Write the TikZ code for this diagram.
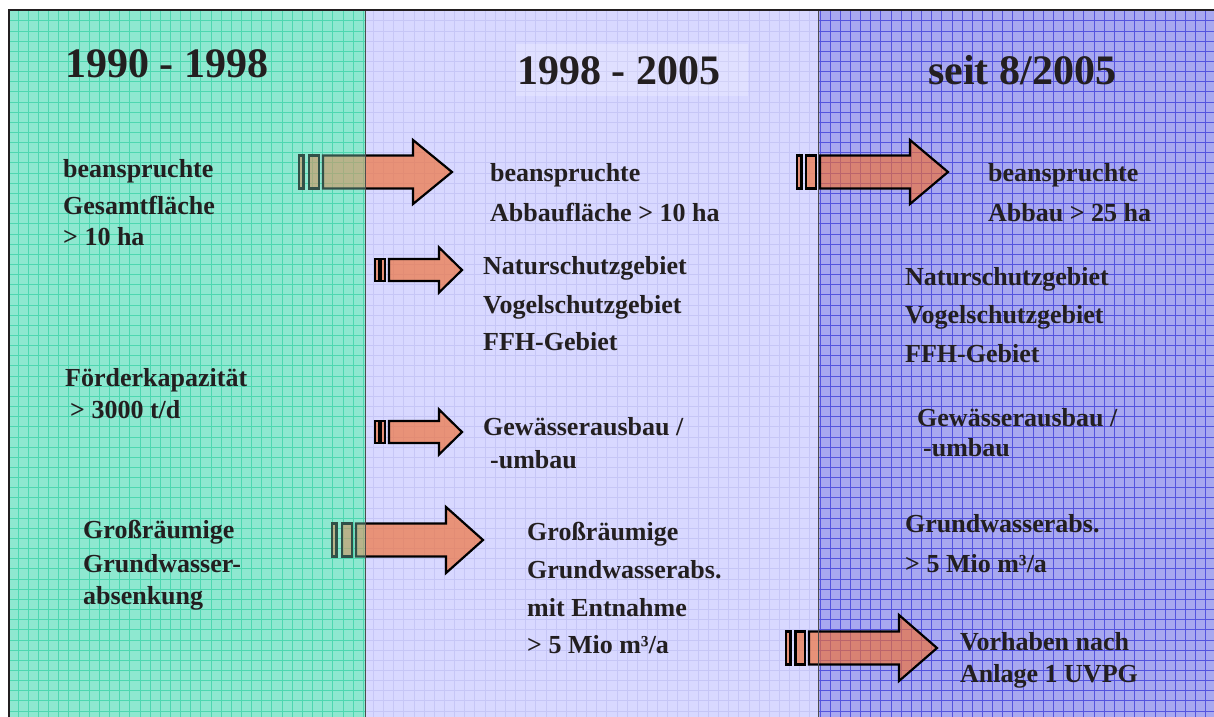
\documentclass[tikz,border=0pt]{standalone}
\usepackage{fontspec}
\setmainfont{Liberation Serif}
\definecolor{tealbg}{RGB}{142,232,208}
\definecolor{tealgrid}{RGB}{44,206,160}
\definecolor{lavbg}{RGB}{216,216,255}
\definecolor{lavgrid}{RGB}{198,198,246}
\definecolor{bluebg}{RGB}{168,168,240}
\definecolor{bluegrid}{RGB}{84,84,222}
\definecolor{arrfill}{RGB}{242,110,48}
\definecolor{txtcol}{RGB}{35,31,32}
\newcommand\blockarr[8]{%
  \draw[arrstyle] (#1,#6-#7) rectangle (#1+4.5,#6+#7);
  \draw[arrstyle] (#2,#6-#7) rectangle (#3-4,#6+#7);
  \draw[arrstyle] (#3,#6-#7) -- (#4,#6-#7) -- (#4,#6-#8) -- (#5,#6) -- (#4,#6+#8) -- (#4,#6+#7) -- (#3,#6+#7) -- cycle;}
\begin{document}
\begin{tikzpicture}[x=1pt,y=-1pt,
  txt/.style={anchor=base west, inner sep=0pt, font=\fontsize{26}{32}\selectfont\bfseries, text=txtcol},
  ttl/.style={anchor=base west, inner sep=0pt, font=\fontsize{42}{50}\selectfont\bfseries, text=txtcol},
  arrstyle/.style={draw=black, line width=2.2pt, line join=miter, fill=arrfill, fill opacity=0.65},
  gridl/.style={line width=0.9pt}]
\useasboundingbox (0,0) rectangle (1214,716);
\fill[white] (0,0) rectangle (1214,716);
% column backgrounds
\fill[tealbg] (9,10) rectangle (365,717);
\fill[lavbg] (365,10) rectangle (818,717);
\fill[bluebg] (818,10) rectangle (1215,717);
% grids
\begin{scope}
\clip (9,10) rectangle (365,717);
\draw[gridl, tealgrid, shift={(8,0.5)}, step=10.15pt] (0,0) grid (360,720);
\end{scope}
\begin{scope}
\clip (365,10) rectangle (818,717);
\draw[gridl, lavgrid, shift={(8,0.5)}, step=10.15pt] (350,0) grid (820,720);
\end{scope}
\begin{scope}
\clip (818,10) rectangle (1215,717);
\draw[gridl, bluegrid, shift={(8,0.5)}, step=10.15pt] (800,0) grid (1220,720);
\end{scope}
% title highlight in middle column
\fill[white, opacity=0.22] (516,44) rectangle (748,96);
% block arrows
\blockarr{299}{309}{323}{413}{452}{172}{16.5}{32}
\blockarr{375}{381}{389}{439}{462}{270}{11}{22.5}
\blockarr{375}{381}{389}{439}{462}{432}{11}{22.5}
\blockarr{332}{342}{356}{446}{483}{540}{16.5}{33}
\blockarr{786}{795.5}{809}{899}{937}{648}{16.5}{33}
\blockarr{797}{806}{820}{910}{948}{172}{16.5}{32}
% teal overlay on left column (arrows appear beneath it)
\fill[tealbg, opacity=0.35] (9,10) rectangle (365,717);
% dividers and frame
\draw[line width=0.8pt, black!70] (365,10) -- (365,717);
\draw[line width=0.8pt, black!70] (818,10) -- (818,717);
\draw[line width=1.5pt, txtcol] (9,717) -- (9,10) -- (1215,10);
% titles
\node[ttl] (t1) at (65,77) {1990 - 1998};
\node[ttl] (t2) at (517,84) {1998 - 2005};
\node[ttl] (t3) at (928,84) {seit 8/2005};
% left column
\node[txt] (a1) at (63,177) {beanspruchte};
\node[txt] (a2) at (63,214) {Gesamtfläche};
\node[txt] (a3) at (63,245) {> 10 ha};
\node[txt] (b1) at (65,386) {Förderkapazität};
\node[txt] (b2) at (70,418) {> 3000 t/d};
\node[txt] (c1) at (83,538) {Großräumige};
\node[txt] (c2) at (83,572) {Grundwasser-};
\node[txt] (c3) at (83,604) {absenkung};
% middle column
\node[txt] (d1) at (490,181) {beanspruchte};
\node[txt] (d2) at (490,221) {Abbaufläche > 10 ha};
\node[txt] (e1) at (483,274) {Naturschutzgebiet};
\node[txt] (e2) at (483,313) {Vogelschutzgebiet};
\node[txt] (e3) at (483,350) {FFH-Gebiet};
\node[txt] (f1) at (483,435) {Gewässerausbau /};
\node[txt] (f2) at (490,468) {-umbau};
\node[txt] (g1) at (527,540) {Großräumige};
\node[txt] (g2) at (527,578) {Grundwasserabs.};
\node[txt] (g3) at (527,616) {mit Entnahme};
\node[txt] (g4) at (527,653) {> 5 Mio m³/a};
% right column
\node[txt] (h1) at (988,181) {beanspruchte};
\node[txt] (h2) at (988,221) {Abbau > 25 ha};
\node[txt] (i1) at (905,285) {Naturschutzgebiet};
\node[txt] (i2) at (905,323) {Vogelschutzgebiet};
\node[txt] (i3) at (905,362) {FFH-Gebiet};
\node[txt] (j1) at (917,426) {Gewässerausbau /};
\node[txt] (j2) at (923,456) {-umbau};
\node[txt] (k1) at (905,532) {Grundwasserabs.};
\node[txt] (k2) at (905,572) {> 5 Mio m³/a};
\node[txt] (m1) at (960,650) {Vorhaben nach};
\node[txt] (m2) at (960,682) {Anlage 1 UVPG};
\end{tikzpicture}
\end{document}
